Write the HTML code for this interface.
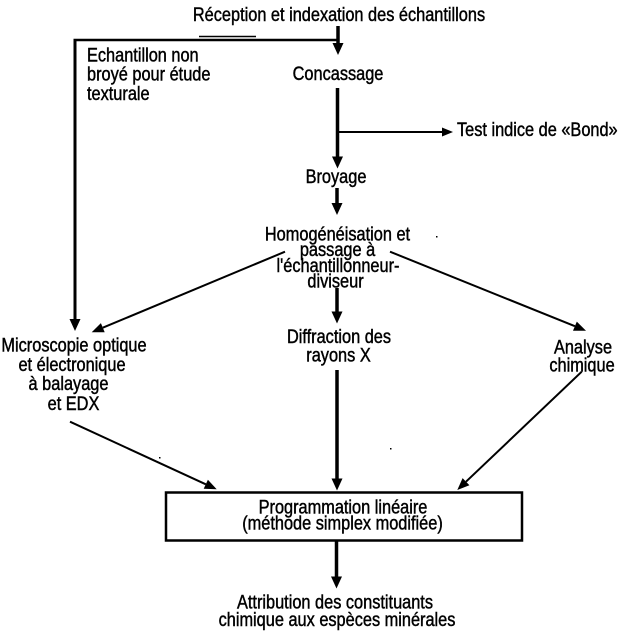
<!DOCTYPE html>
<html>
<head>
<meta charset="utf-8">
<style>
  html, body { margin: 0; padding: 0; background: #fff; }
  svg { display: block; }
  text { font-family: "Liberation Sans", sans-serif; font-size: 19px; fill: #000; stroke: #000; stroke-width: 0.45; }
  .c { text-anchor: middle; }
</style>
</head>
<body>
<svg width="620" height="634" viewBox="0 0 620 634" xmlns="http://www.w3.org/2000/svg">
  <rect width="620" height="634" fill="#fff"/>

  <!-- Lines -->
  <g stroke="#000" fill="none" stroke-linecap="butt">
    <line x1="338" y1="26" x2="338" y2="45" stroke-width="3.5"/>
    <line x1="73.5" y1="40" x2="338" y2="40" stroke-width="2.5"/>
    <line x1="199" y1="36.5" x2="256" y2="36.5" stroke-width="1.5"/>
    <line x1="75" y1="39" x2="75" y2="320" stroke-width="3"/>
    <line x1="337.5" y1="88" x2="337.5" y2="158" stroke-width="3.5"/>
    <line x1="337" y1="132" x2="444" y2="132" stroke-width="2"/>
    <line x1="337" y1="188" x2="337" y2="205" stroke-width="3.5"/>
    <line x1="337" y1="288" x2="337" y2="313" stroke-width="3.5"/>
    <line x1="285" y1="251.7" x2="102.8" y2="327.7" stroke-width="2"/>
    <line x1="390" y1="251.7" x2="574.9" y2="326.2" stroke-width="2"/>
    <line x1="337" y1="370" x2="337" y2="480" stroke-width="3.5"/>
    <line x1="70" y1="421.7" x2="205.8" y2="484.3" stroke-width="2"/>
    <line x1="581.7" y1="371.7" x2="466" y2="481.7" stroke-width="2"/>
    <rect x="166" y="492.5" width="356" height="48" stroke-width="2.5"/>
    <line x1="336.5" y1="541" x2="336.5" y2="578" stroke-width="3.5"/>
  </g>

  <!-- Arrowheads -->
  <g fill="#000" stroke="none">
    <polygon points="338,55 332.5,43 343.5,43"/>
    <polygon points="75,331 69.5,319 80.5,319"/>
    <polygon points="337.5,168.5 332,156.5 343,156.5"/>
    <polygon points="453,132 442,127.5 442,136.5"/>
    <polygon points="337,215 331.5,203 342.5,203"/>
    <polygon points="337,323.5 331.5,311.5 342.5,311.5"/>
    <polygon points="91.7,332.3 104.7,332.3 100.9,323.1"/>
    <polygon points="586,330.7 573,330.8 576.8,321.6"/>
    <polygon points="337,490.5 331.5,478.5 342.5,478.5"/>
    <polygon points="216.7,489.3 203.7,488.8 207.9,479.8"/>
    <polygon points="457.3,490 469.4,485.3 462.6,478.1"/>
    <polygon points="336.5,588.5 331,576.5 342,576.5"/>
  </g>

  <!-- Stray specks -->
  <g fill="#000">
    <rect x="159" y="457" width="1.5" height="1.5"/>
    <rect x="436" y="236" width="1.5" height="1.5"/>
    <rect x="390" y="448" width="1.5" height="1.5"/>
  </g>

  <!-- Text -->
  <text class="c" transform="translate(339,21) scale(0.86,1)">Réception et indexation des échantillons</text>

  <text transform="translate(87,61.7) scale(0.86,1)">Echantillon non</text>
  <text transform="translate(87,80.5) scale(0.86,1)">broyé pour étude</text>
  <text transform="translate(87,100) scale(0.86,1)">texturale</text>

  <text class="c" transform="translate(338,80) scale(0.86,1)">Concassage</text>

  <text transform="translate(457,136) scale(0.86,1)">Test indice de «Bond»</text>

  <text class="c" transform="translate(336,183) scale(0.86,1)">Broyage</text>

  <text class="c" transform="translate(337.5,240.7) scale(0.86,1)">Homogénéisation et</text>
  <text class="c" transform="translate(337.5,256) scale(0.86,1)">passage à</text>
  <text class="c" transform="translate(338,272) scale(0.86,1)">l'échantillonneur-</text>
  <text class="c" transform="translate(335.5,287.5) scale(0.86,1)">diviseur</text>

  <text class="c" transform="translate(74,351.7) scale(0.86,1)">Microscopie optique</text>
  <text class="c" transform="translate(72,371) scale(0.86,1)">et électronique</text>
  <text class="c" transform="translate(68.5,390) scale(0.86,1)">à balayage</text>
  <text class="c" transform="translate(73.5,410) scale(0.86,1)">et EDX</text>

  <text class="c" transform="translate(339,343) scale(0.86,1)">Diffraction des</text>
  <text class="c" transform="translate(338.5,361.5) scale(0.86,1)">rayons X</text>

  <text class="c" transform="translate(583,353.3) scale(0.86,1)">Analyse</text>
  <text class="c" transform="translate(582,371.7) scale(0.86,1)">chimique</text>

  <text class="c" transform="translate(343,513.3) scale(0.86,1)">Programmation linéaire</text>
  <text class="c" transform="translate(342.5,529.5) scale(0.86,1)">(méthode simplex modifiée)</text>

  <text class="c" transform="translate(335,608.3) scale(0.86,1)">Attribution des constituants</text>
  <text class="c" transform="translate(337,626) scale(0.86,1)">chimique aux espèces minérales</text>
</svg>
</body>
</html>
